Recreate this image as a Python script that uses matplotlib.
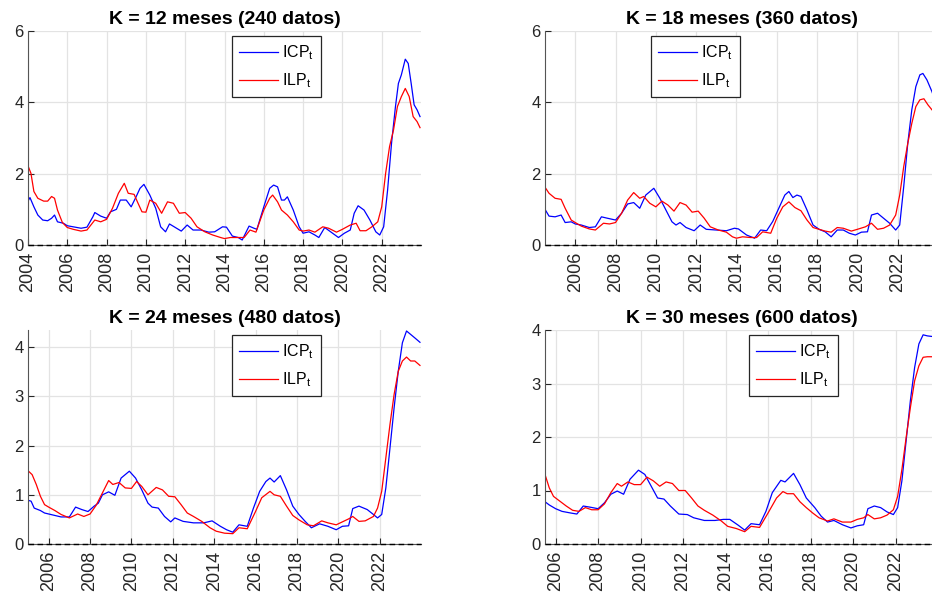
import matplotlib
matplotlib.use('Agg')
import matplotlib.pyplot as plt
import numpy as np

plt.rcParams['font.family'] = ['Liberation Sans', 'DejaVu Sans']
plt.rcParams['mathtext.fontset'] = 'custom'
plt.rcParams['mathtext.rm'] = 'Liberation Sans'
plt.rcParams['mathtext.it'] = 'Liberation Sans'

# ---- data (decimal year, value) ----
k12_icp_t = [2004.0, 2004.1, 2004.3, 2004.5, 2004.75, 2005.0, 2005.2, 2005.35, 2005.5, 2005.8, 2006.0, 2006.3, 2006.7, 2007.0, 2007.3, 2007.4, 2007.7, 2008.0, 2008.2, 2008.5, 2008.7, 2009.0, 2009.25, 2009.5, 2009.7, 2009.9, 2010.2, 2010.5, 2010.75, 2011.0, 2011.2, 2011.5, 2011.8, 2012.1, 2012.4, 2012.8, 2013.2, 2013.5, 2013.9, 2014.1, 2014.4, 2014.7, 2014.9, 2015.25, 2015.5, 2015.65, 2016.0, 2016.3, 2016.5, 2016.7, 2016.9, 2017.05, 2017.2, 2017.5, 2017.8, 2018.0, 2018.3, 2018.6, 2018.8, 2019.1, 2019.4, 2019.8, 2020.1, 2020.4, 2020.6, 2020.8, 2021.1, 2021.4, 2021.7, 2021.9, 2022.1, 2022.3, 2022.5, 2022.7, 2022.85, 2023.0, 2023.2, 2023.35, 2023.5, 2023.65, 2023.8, 2023.95]
k12_icp = [1.23, 1.33, 1.07, 0.84, 0.70, 0.68, 0.75, 0.84, 0.65, 0.61, 0.54, 0.51, 0.47, 0.50, 0.79, 0.91, 0.81, 0.75, 0.93, 1.00, 1.26, 1.26, 1.07, 1.35, 1.59, 1.70, 1.40, 1.03, 0.51, 0.37, 0.59, 0.49, 0.39, 0.56, 0.42, 0.42, 0.36, 0.37, 0.51, 0.50, 0.25, 0.21, 0.14, 0.53, 0.47, 0.44, 1.07, 1.59, 1.68, 1.63, 1.26, 1.26, 1.35, 0.98, 0.51, 0.33, 0.37, 0.28, 0.21, 0.49, 0.37, 0.21, 0.33, 0.42, 0.89, 1.10, 0.98, 0.70, 0.37, 0.28, 0.51, 1.54, 2.85, 3.88, 4.53, 4.77, 5.21, 5.09, 4.53, 3.93, 3.79, 3.60]
k12_ilp_t = [2004.0, 2004.15, 2004.3, 2004.5, 2004.8, 2005.0, 2005.2, 2005.35, 2005.5, 2005.75, 2006.0, 2006.3, 2006.7, 2007.0, 2007.4, 2007.7, 2008.0, 2008.3, 2008.6, 2008.9, 2009.1, 2009.4, 2009.6, 2009.8, 2010.0, 2010.2, 2010.5, 2010.8, 2011.1, 2011.4, 2011.7, 2012.0, 2012.3, 2012.6, 2013.0, 2013.4, 2013.8, 2014.0, 2014.3, 2014.7, 2015.0, 2015.3, 2015.6, 2016.0, 2016.3, 2016.45, 2016.7, 2016.9, 2017.2, 2017.5, 2017.8, 2018.0, 2018.3, 2018.6, 2019.0, 2019.3, 2019.7, 2020.0, 2020.4, 2020.7, 2020.9, 2021.2, 2021.5, 2021.8, 2022.0, 2022.2, 2022.4, 2022.6, 2022.8, 2023.0, 2023.2, 2023.4, 2023.6, 2023.8, 2023.95]
k12_ilp = [2.22, 2.01, 1.50, 1.31, 1.23, 1.23, 1.36, 1.31, 0.98, 0.63, 0.49, 0.44, 0.39, 0.42, 0.70, 0.65, 0.72, 1.03, 1.45, 1.73, 1.45, 1.42, 1.17, 0.93, 0.92, 1.26, 1.17, 0.89, 1.21, 1.17, 0.89, 0.91, 0.75, 0.51, 0.37, 0.28, 0.21, 0.18, 0.21, 0.21, 0.21, 0.42, 0.36, 0.98, 1.31, 1.40, 1.21, 0.98, 0.84, 0.65, 0.42, 0.39, 0.42, 0.36, 0.51, 0.47, 0.36, 0.44, 0.56, 0.61, 0.40, 0.40, 0.51, 0.65, 1.07, 2.01, 2.76, 3.22, 3.88, 4.16, 4.39, 4.16, 3.60, 3.46, 3.29]

k18_icp_t = [2004.5, 2004.7, 2005.0, 2005.3, 2005.5, 2005.8, 2006.0, 2006.3, 2006.7, 2007.0, 2007.3, 2007.6, 2008.0, 2008.3, 2008.6, 2008.9, 2009.2, 2009.5, 2009.9, 2010.2, 2010.5, 2010.8, 2011.0, 2011.2, 2011.5, 2011.9, 2012.2, 2012.5, 2013.0, 2013.5, 2013.9, 2014.1, 2014.5, 2014.9, 2015.2, 2015.5, 2015.8, 2016.1, 2016.4, 2016.6, 2016.8, 2017.0, 2017.2, 2017.5, 2017.8, 2018.1, 2018.4, 2018.7, 2019.0, 2019.3, 2019.6, 2019.9, 2020.2, 2020.5, 2020.7, 2021.0, 2021.3, 2021.6, 2021.9, 2022.1, 2022.3, 2022.5, 2022.7, 2022.9, 2023.1, 2023.25, 2023.45, 2023.7, 2023.85, 2024.0]
k18_icp = [1.00, 0.81, 0.79, 0.84, 0.63, 0.65, 0.59, 0.56, 0.49, 0.51, 0.79, 0.75, 0.70, 0.89, 1.15, 1.19, 1.03, 1.40, 1.59, 1.31, 0.98, 0.65, 0.56, 0.63, 0.49, 0.40, 0.56, 0.44, 0.42, 0.40, 0.47, 0.45, 0.28, 0.19, 0.42, 0.40, 0.66, 1.03, 1.40, 1.50, 1.33, 1.40, 1.36, 0.98, 0.56, 0.44, 0.37, 0.23, 0.42, 0.42, 0.33, 0.28, 0.36, 0.37, 0.84, 0.89, 0.75, 0.61, 0.42, 0.56, 1.64, 2.85, 3.79, 4.44, 4.77, 4.81, 4.63, 4.30, 4.05, 3.85]
k18_ilp_t = [2004.5, 2004.7, 2005.0, 2005.3, 2005.5, 2005.8, 2006.0, 2006.3, 2006.7, 2007.0, 2007.4, 2007.7, 2008.0, 2008.3, 2008.6, 2008.9, 2009.2, 2009.4, 2009.7, 2010.0, 2010.3, 2010.6, 2010.9, 2011.2, 2011.5, 2011.8, 2012.1, 2012.4, 2012.7, 2013.1, 2013.5, 2013.8, 2014.0, 2014.3, 2014.7, 2015.0, 2015.3, 2015.7, 2016.0, 2016.3, 2016.6, 2016.9, 2017.2, 2017.5, 2017.8, 2018.1, 2018.4, 2018.7, 2019.0, 2019.3, 2019.7, 2020.0, 2020.4, 2020.7, 2021.0, 2021.3, 2021.6, 2021.9, 2022.1, 2022.3, 2022.5, 2022.7, 2022.9, 2023.1, 2023.3, 2023.5, 2023.7, 2023.85, 2024.0]
k18_ilp = [1.62, 1.45, 1.31, 1.28, 1.03, 0.70, 0.63, 0.53, 0.45, 0.42, 0.61, 0.59, 0.63, 0.89, 1.26, 1.47, 1.31, 1.36, 1.17, 1.07, 1.23, 1.12, 0.95, 1.19, 1.12, 0.92, 0.95, 0.75, 0.51, 0.42, 0.36, 0.23, 0.19, 0.23, 0.21, 0.21, 0.37, 0.33, 0.75, 1.07, 1.21, 1.05, 0.96, 0.70, 0.49, 0.44, 0.39, 0.36, 0.49, 0.47, 0.39, 0.44, 0.51, 0.61, 0.44, 0.47, 0.56, 0.84, 1.40, 2.20, 2.85, 3.41, 3.88, 4.07, 4.10, 3.93, 3.79, 3.70, 3.60]

k24_icp_t = [2005.0, 2005.15, 2005.3, 2005.6, 2005.8, 2006.0, 2006.3, 2006.6, 2007.0, 2007.3, 2007.6, 2007.9, 2008.2, 2008.4, 2008.6, 2008.9, 2009.2, 2009.5, 2009.9, 2010.2, 2010.5, 2010.8, 2011.0, 2011.3, 2011.6, 2011.9, 2012.1, 2012.5, 2013.0, 2013.5, 2013.9, 2014.3, 2014.6, 2014.9, 2015.2, 2015.6, 2015.9, 2016.2, 2016.5, 2016.7, 2016.9, 2017.2, 2017.5, 2017.8, 2018.1, 2018.4, 2018.7, 2019.1, 2019.5, 2019.9, 2020.2, 2020.5, 2020.7, 2021.0, 2021.4, 2021.7, 2021.9, 2022.1, 2022.3, 2022.5, 2022.7, 2022.9, 2023.1, 2023.3, 2023.5, 2023.7, 2023.95]
k24_icp = [0.89, 0.87, 0.73, 0.68, 0.63, 0.61, 0.58, 0.55, 0.55, 0.75, 0.70, 0.66, 0.77, 0.83, 1.00, 1.06, 0.99, 1.34, 1.48, 1.34, 1.10, 0.83, 0.75, 0.73, 0.56, 0.45, 0.53, 0.46, 0.43, 0.43, 0.47, 0.36, 0.29, 0.24, 0.39, 0.36, 0.73, 1.07, 1.27, 1.34, 1.26, 1.39, 1.10, 0.77, 0.60, 0.46, 0.33, 0.41, 0.36, 0.29, 0.36, 0.37, 0.72, 0.77, 0.70, 0.60, 0.53, 0.60, 1.14, 1.95, 2.77, 3.51, 4.09, 4.33, 4.26, 4.19, 4.10]
k24_ilp_t = [2005.0, 2005.2, 2005.4, 2005.6, 2005.8, 2006.0, 2006.3, 2006.6, 2007.0, 2007.4, 2007.7, 2008.0, 2008.3, 2008.6, 2008.9, 2009.1, 2009.4, 2009.7, 2010.0, 2010.25, 2010.5, 2010.8, 2011.2, 2011.5, 2011.8, 2012.1, 2012.4, 2012.7, 2013.0, 2013.4, 2013.8, 2014.1, 2014.5, 2014.9, 2015.2, 2015.6, 2016.0, 2016.3, 2016.7, 2016.9, 2017.2, 2017.5, 2017.8, 2018.1, 2018.5, 2018.8, 2019.2, 2019.5, 2019.9, 2020.2, 2020.5, 2020.7, 2021.0, 2021.3, 2021.7, 2021.9, 2022.1, 2022.3, 2022.5, 2022.7, 2022.9, 2023.1, 2023.3, 2023.5, 2023.7, 2023.95]
k24_ilp = [1.49, 1.41, 1.21, 0.97, 0.80, 0.75, 0.68, 0.60, 0.53, 0.61, 0.56, 0.61, 0.79, 1.04, 1.29, 1.21, 1.25, 1.14, 1.13, 1.27, 1.17, 1.00, 1.15, 1.10, 0.97, 0.96, 0.80, 0.63, 0.56, 0.46, 0.33, 0.26, 0.22, 0.21, 0.33, 0.31, 0.66, 0.94, 1.07, 1.00, 0.97, 0.77, 0.58, 0.49, 0.39, 0.37, 0.47, 0.43, 0.39, 0.45, 0.51, 0.56, 0.46, 0.47, 0.56, 0.73, 1.07, 1.75, 2.43, 3.04, 3.51, 3.72, 3.80, 3.72, 3.72, 3.63]

k30_icp_t = [2005.5, 2005.7, 2006.0, 2006.3, 2006.7, 2007.0, 2007.3, 2007.6, 2008.0, 2008.3, 2008.6, 2008.9, 2009.2, 2009.5, 2009.9, 2010.2, 2010.5, 2010.8, 2011.1, 2011.4, 2011.8, 2012.2, 2012.5, 2013.0, 2013.5, 2013.9, 2014.2, 2014.6, 2014.9, 2015.2, 2015.6, 2015.9, 2016.2, 2016.6, 2016.8, 2017.2, 2017.5, 2017.8, 2018.2, 2018.5, 2018.8, 2019.1, 2019.5, 2019.9, 2020.2, 2020.5, 2020.7, 2021.0, 2021.3, 2021.6, 2021.9, 2022.1, 2022.3, 2022.5, 2022.7, 2022.9, 2023.1, 2023.3, 2023.5, 2023.7, 2024.0]
k30_icp = [0.79, 0.73, 0.66, 0.61, 0.58, 0.56, 0.71, 0.69, 0.66, 0.77, 0.93, 0.99, 0.93, 1.21, 1.38, 1.30, 1.08, 0.86, 0.84, 0.71, 0.56, 0.55, 0.49, 0.44, 0.44, 0.46, 0.46, 0.35, 0.26, 0.38, 0.36, 0.61, 0.96, 1.19, 1.16, 1.32, 1.11, 0.86, 0.68, 0.52, 0.41, 0.44, 0.36, 0.30, 0.34, 0.36, 0.66, 0.71, 0.68, 0.60, 0.55, 0.68, 1.18, 1.93, 2.68, 3.30, 3.74, 3.91, 3.89, 3.88, 3.87]
k30_ilp_t = [2005.5, 2005.7, 2005.9, 2006.2, 2006.5, 2006.8, 2007.1, 2007.4, 2007.7, 2008.0, 2008.3, 2008.6, 2008.9, 2009.1, 2009.4, 2009.7, 2010.0, 2010.3, 2010.6, 2010.9, 2011.2, 2011.5, 2011.8, 2012.1, 2012.4, 2012.7, 2013.0, 2013.4, 2013.8, 2014.1, 2014.5, 2014.9, 2015.2, 2015.6, 2016.0, 2016.4, 2016.7, 2016.9, 2017.2, 2017.5, 2017.8, 2018.1, 2018.4, 2018.8, 2019.1, 2019.5, 2019.9, 2020.2, 2020.5, 2020.7, 2021.0, 2021.3, 2021.6, 2021.9, 2022.1, 2022.3, 2022.5, 2022.7, 2022.9, 2023.1, 2023.3, 2023.5, 2023.7, 2024.0]
k30_ilp = [1.30, 1.05, 0.89, 0.80, 0.71, 0.63, 0.61, 0.68, 0.64, 0.64, 0.75, 0.96, 1.13, 1.08, 1.16, 1.11, 1.11, 1.25, 1.18, 1.08, 1.16, 1.13, 1.00, 1.00, 0.86, 0.71, 0.63, 0.54, 0.43, 0.33, 0.29, 0.23, 0.33, 0.31, 0.58, 0.86, 0.98, 0.94, 0.94, 0.79, 0.68, 0.58, 0.49, 0.43, 0.47, 0.41, 0.41, 0.46, 0.49, 0.55, 0.47, 0.49, 0.54, 0.64, 0.89, 1.39, 1.99, 2.55, 3.05, 3.33, 3.49, 3.50, 3.50, 3.50]

titles = ['K = 12 meses (240 datos)', 'K = 18 meses (360 datos)',
          'K = 24 meses (480 datos)', 'K = 30 meses (600 datos)']
x_starts = [2004.0, 2004.5, 2005.0, 2005.5]
y_tops = [6, 6, 4.35, 4]
y_ticks = [[0, 2, 4, 6], [0, 2, 4, 6], [0, 1, 2, 3, 4], [0, 1, 2, 3, 4]]
x_ticks = list(range(2004, 2024, 2))

W, H = 932, 596
fig = plt.figure(figsize=(W / 100, H / 100), dpi=100)

# axes boxes in pixels: left, top
boxes = [(28, 31), (545, 31), (28, 330), (545, 330)]
legend_pos = [(232, 36), (651, 36), (232, 335), (749, 335)]
ax_w, ax_h = 393, 214

series = [(k12_icp_t, k12_icp, k12_ilp_t, k12_ilp),
          (k18_icp_t, k18_icp, k18_ilp_t, k18_ilp),
          (k24_icp_t, k24_icp, k24_ilp_t, k24_ilp),
          (k30_icp_t, k30_icp, k30_ilp_t, k30_ilp)]

axis_col = '#262626'
for i in range(4):
    l, t = boxes[i]
    ax = fig.add_axes([l / W, 1 - (t + ax_h) / H, ax_w / W, ax_h / H])
    ti, yi, tl, yl = series[i]
    ax.plot(ti, yi, color='b', lw=0.9, label='ICP$_\\mathrm{t}$')
    ax.plot(tl, yl, color='r', lw=0.9, label='ILP$_\\mathrm{t}$')
    ax.axhline(0, color='k', lw=1.0, ls=(0, (4, 2.5)), clip_on=False, zorder=5)
    xt = [x for x in x_ticks if x >= x_starts[i]]
    ax.set_xticks(xt)
    ax.set_yticks(y_ticks[i])
    ax.set_xticklabels([str(x) for x in xt], rotation=90)
    ax.set_xlim(x_starts[i], 2024.0)
    ax.set_ylim(0, y_tops[i])
    ax.tick_params(axis='x', labelsize=13, direction='in', length=4, colors=axis_col, pad=5)
    ax.tick_params(axis='y', labelsize=12, direction='in', length=4, colors=axis_col, pad=3)
    ax.grid(True, color='#e3e3e3', lw=0.9)
    ax.set_axisbelow(True)
    ax.spines['top'].set_visible(False)
    ax.spines['right'].set_visible(False)
    ax.spines['left'].set_color('#555555')
    ax.spines['bottom'].set_color('#555555')
    ax.set_title(titles[i], fontsize=14, fontweight='bold', pad=5)
    lx, ly = legend_pos[i]
    leg = ax.legend(loc='upper left', bbox_to_anchor=(lx / W, 1 - ly / H),
                    bbox_transform=fig.transFigure, fontsize=11.5,
                    fancybox=False, framealpha=1, edgecolor=axis_col,
                    handlelength=2.4, handletextpad=0.3, borderpad=0.45,
                    labelspacing=0.6, borderaxespad=0)
    leg.get_frame().set_linewidth(0.9)

fig.savefig('out.png', dpi=100)
